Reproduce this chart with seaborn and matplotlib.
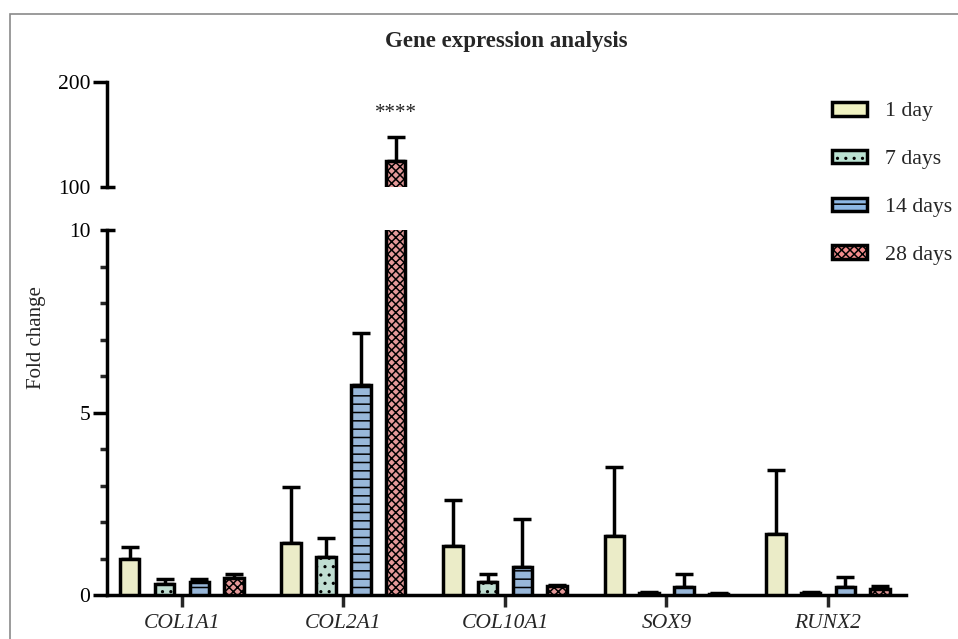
import numpy as np
import pandas as pd
import matplotlib
matplotlib.use("Agg")
import matplotlib.pyplot as plt
import matplotlib.patches as mpatches
from matplotlib.ticker import FixedLocator
import seaborn as sns

# ---- data -------------------------------------------------------------
genes = ["COL1A1", "COL2A1", "COL10A1", "SOX9", "RUNX2"]
timepoints = ["1 day", "7 days", "14 days", "28 days"]

mean_1d = [1.00, 1.42, 1.34, 1.62, 1.67]
mean_7d = [0.30, 1.03, 0.36, 0.05, 0.05]
mean_14d = [0.36, 5.75, 0.77, 0.22, 0.22]
mean_28d = [0.47, 125.0, 0.24, 0.04, 0.16]

sd_1d = [0.31, 1.55, 1.25, 1.90, 1.75]
sd_7d = [0.14, 0.53, 0.22, 0.02, 0.02]
sd_14d = [0.09, 1.44, 1.32, 0.36, 0.28]
sd_28d = [0.11, 23.0, 0.04, 0.02, 0.08]

significance = "****"
sig_gene = "COL2A1"
sig_time = "28 days"

lower_ticks = [0, 5, 10]
upper_ticks = [100, 200]

# ---- styling ----------------------------------------------------------
colors = ["#F0F2C2", "#BBE3D3", "#8DB7E4", "#F28C8C"]
hatches = ["", "..", "--", "xxxx"]

sns.set_style("white")
plt.rcParams["font.family"] = ["Liberation Serif", "DejaVu Serif"]
plt.rcParams["hatch.linewidth"] = 1.1
plt.rcParams["hatch.color"] = "black"

means = [mean_1d, mean_7d, mean_14d, mean_28d]
sds = [sd_1d, sd_7d, sd_14d, sd_28d]
df = pd.DataFrame({
    "gene": np.tile(genes, len(timepoints)),
    "time": np.repeat(timepoints, len(genes)),
    "fold": np.concatenate(means),
    "sd": np.concatenate(sds),
})

W, H = 958, 639
fig = plt.figure(figsize=(W / 100, H / 100), dpi=100)

def px_axes(left, top, right, bottom):
    return fig.add_axes([left / W, 1 - bottom / H, (right - left) / W, (bottom - top) / H])

ax_lo = px_axes(107, 230, 906, 595)
ax_hi = px_axes(107, 82, 906, 187)

LW = 2.5

def draw_bars(ax):
    sns.barplot(data=df, x="gene", y="fold", hue="time", order=genes,
                hue_order=timepoints, palette=colors, errorbar=None,
                width=0.862, gap=0.44, edgecolor="black", linewidth=LW,
                legend=False, ax=ax, zorder=3)
    for cont, hatch, t in zip(ax.containers, hatches, timepoints):
        sub = df[df["time"] == t].set_index("gene").loc[genes]
        xs = []
        for patch in cont.patches:
            patch.set_hatch(hatch)
            xs.append(patch.get_x() + patch.get_width() / 2)
        ys = sub["fold"].values
        errs = sub["sd"].values
        ax.errorbar(xs, ys, yerr=[np.zeros_like(errs), errs], fmt="none",
                    ecolor="black", elinewidth=LW, capsize=6.5, capthick=LW,
                    zorder=2)
    ax.set_xlim(-0.464, 4.483)
    ax.set_xlabel("")
    ax.set_ylabel("")
    return ax

draw_bars(ax_lo)
draw_bars(ax_hi)

# lower segment 0-10
ax_lo.set_ylim(0, 10)
ax_lo.yaxis.set_major_locator(FixedLocator(lower_ticks))
ax_lo.yaxis.set_minor_locator(FixedLocator([1, 2, 3, 4, 6, 7, 8, 9]))
for s in ["top", "right"]:
    ax_lo.spines[s].set_visible(False)
for s in ["left", "bottom"]:
    ax_lo.spines[s].set_linewidth(LW)
    ax_lo.spines[s].set_color("black")
ax_lo.tick_params(axis="y", which="major", length=10, width=LW, direction="out",
                  left=True, labelsize=15.5, pad=2, colors="black")
ax_lo.tick_params(axis="y", which="minor", length=5, width=LW, direction="out",
                  left=True)
ax_lo.tick_params(axis="x", length=8.5, width=LW, direction="out", bottom=True,
                  labelsize=15.5, pad=5)
for lab in ax_lo.get_xticklabels():
    lab.set_fontstyle("italic")
ax_lo.yaxis.get_major_ticks()[2].tick1line.set_visible(False)

# upper segment 100-200
ax_hi.set_ylim(100, 200)
ax_hi.yaxis.set_major_locator(FixedLocator(upper_ticks))
for s in ["top", "right", "bottom"]:
    ax_hi.spines[s].set_visible(False)
ax_hi.spines["left"].set_linewidth(LW)
ax_hi.spines["left"].set_color("black")
ax_hi.tick_params(axis="y", which="major", length=10, width=LW, direction="out",
                  left=True, labelsize=15.5, pad=2, colors="black")
ax_hi.tick_params(axis="x", bottom=False, labelbottom=False)
ax_hi.yaxis.get_major_ticks()[0].tick1line.set_visible(False)
ax_hi.patch.set_alpha(0)

# break marks on the y axis
axw = 799
for ax, yy in [(ax_lo, 1.0), (ax_hi, 0.0)]:
    ax.plot([-7 / axw, 8 / axw], [yy, yy], transform=ax.transAxes,
            color="black", lw=LW, clip_on=False, solid_capstyle="butt")

# significance stars above the 28-day COL2A1 bar
gi = genes.index(sig_gene)
ti = timepoints.index(sig_time)
star_patch = ax_hi.containers[ti].patches[gi]
ax_hi.text(star_patch.get_x() + star_patch.get_width() / 2, 166, significance,
           ha="center", va="baseline", fontsize=15, color="#222222")

# titles and labels
fig.text(506.5 / W, 1 - 42 / H, "Gene expression analysis", ha="center",
         va="center", fontsize=16.5, fontweight="bold")
fig.text(37 / W, 1 - 338 / H, "Fold change", ha="center", va="center",
         rotation=90, fontsize=15)

# legend
handles = [mpatches.Patch(facecolor=c, edgecolor="black", linewidth=LW,
                          hatch=h, label=t)
           for c, h, t in zip(colors, hatches, timepoints)]
fig.legend(handles=handles, loc="upper left",
           bbox_to_anchor=(832 / W, 1 - 102 / H), frameon=False,
           fontsize=15.7, handlelength=1.6, handleheight=0.58,
           labelspacing=1.3, handletextpad=0.85, borderpad=0, borderaxespad=0)

# outer frame
fig.patches.append(mpatches.Rectangle((9.5 / W, -0.1), 1.2, 1.1 - 14 / H,
                                      transform=fig.transFigure, fill=False,
                                      edgecolor="#8a8a8a", linewidth=1.2))

fig.savefig("out.png", dpi=100)
